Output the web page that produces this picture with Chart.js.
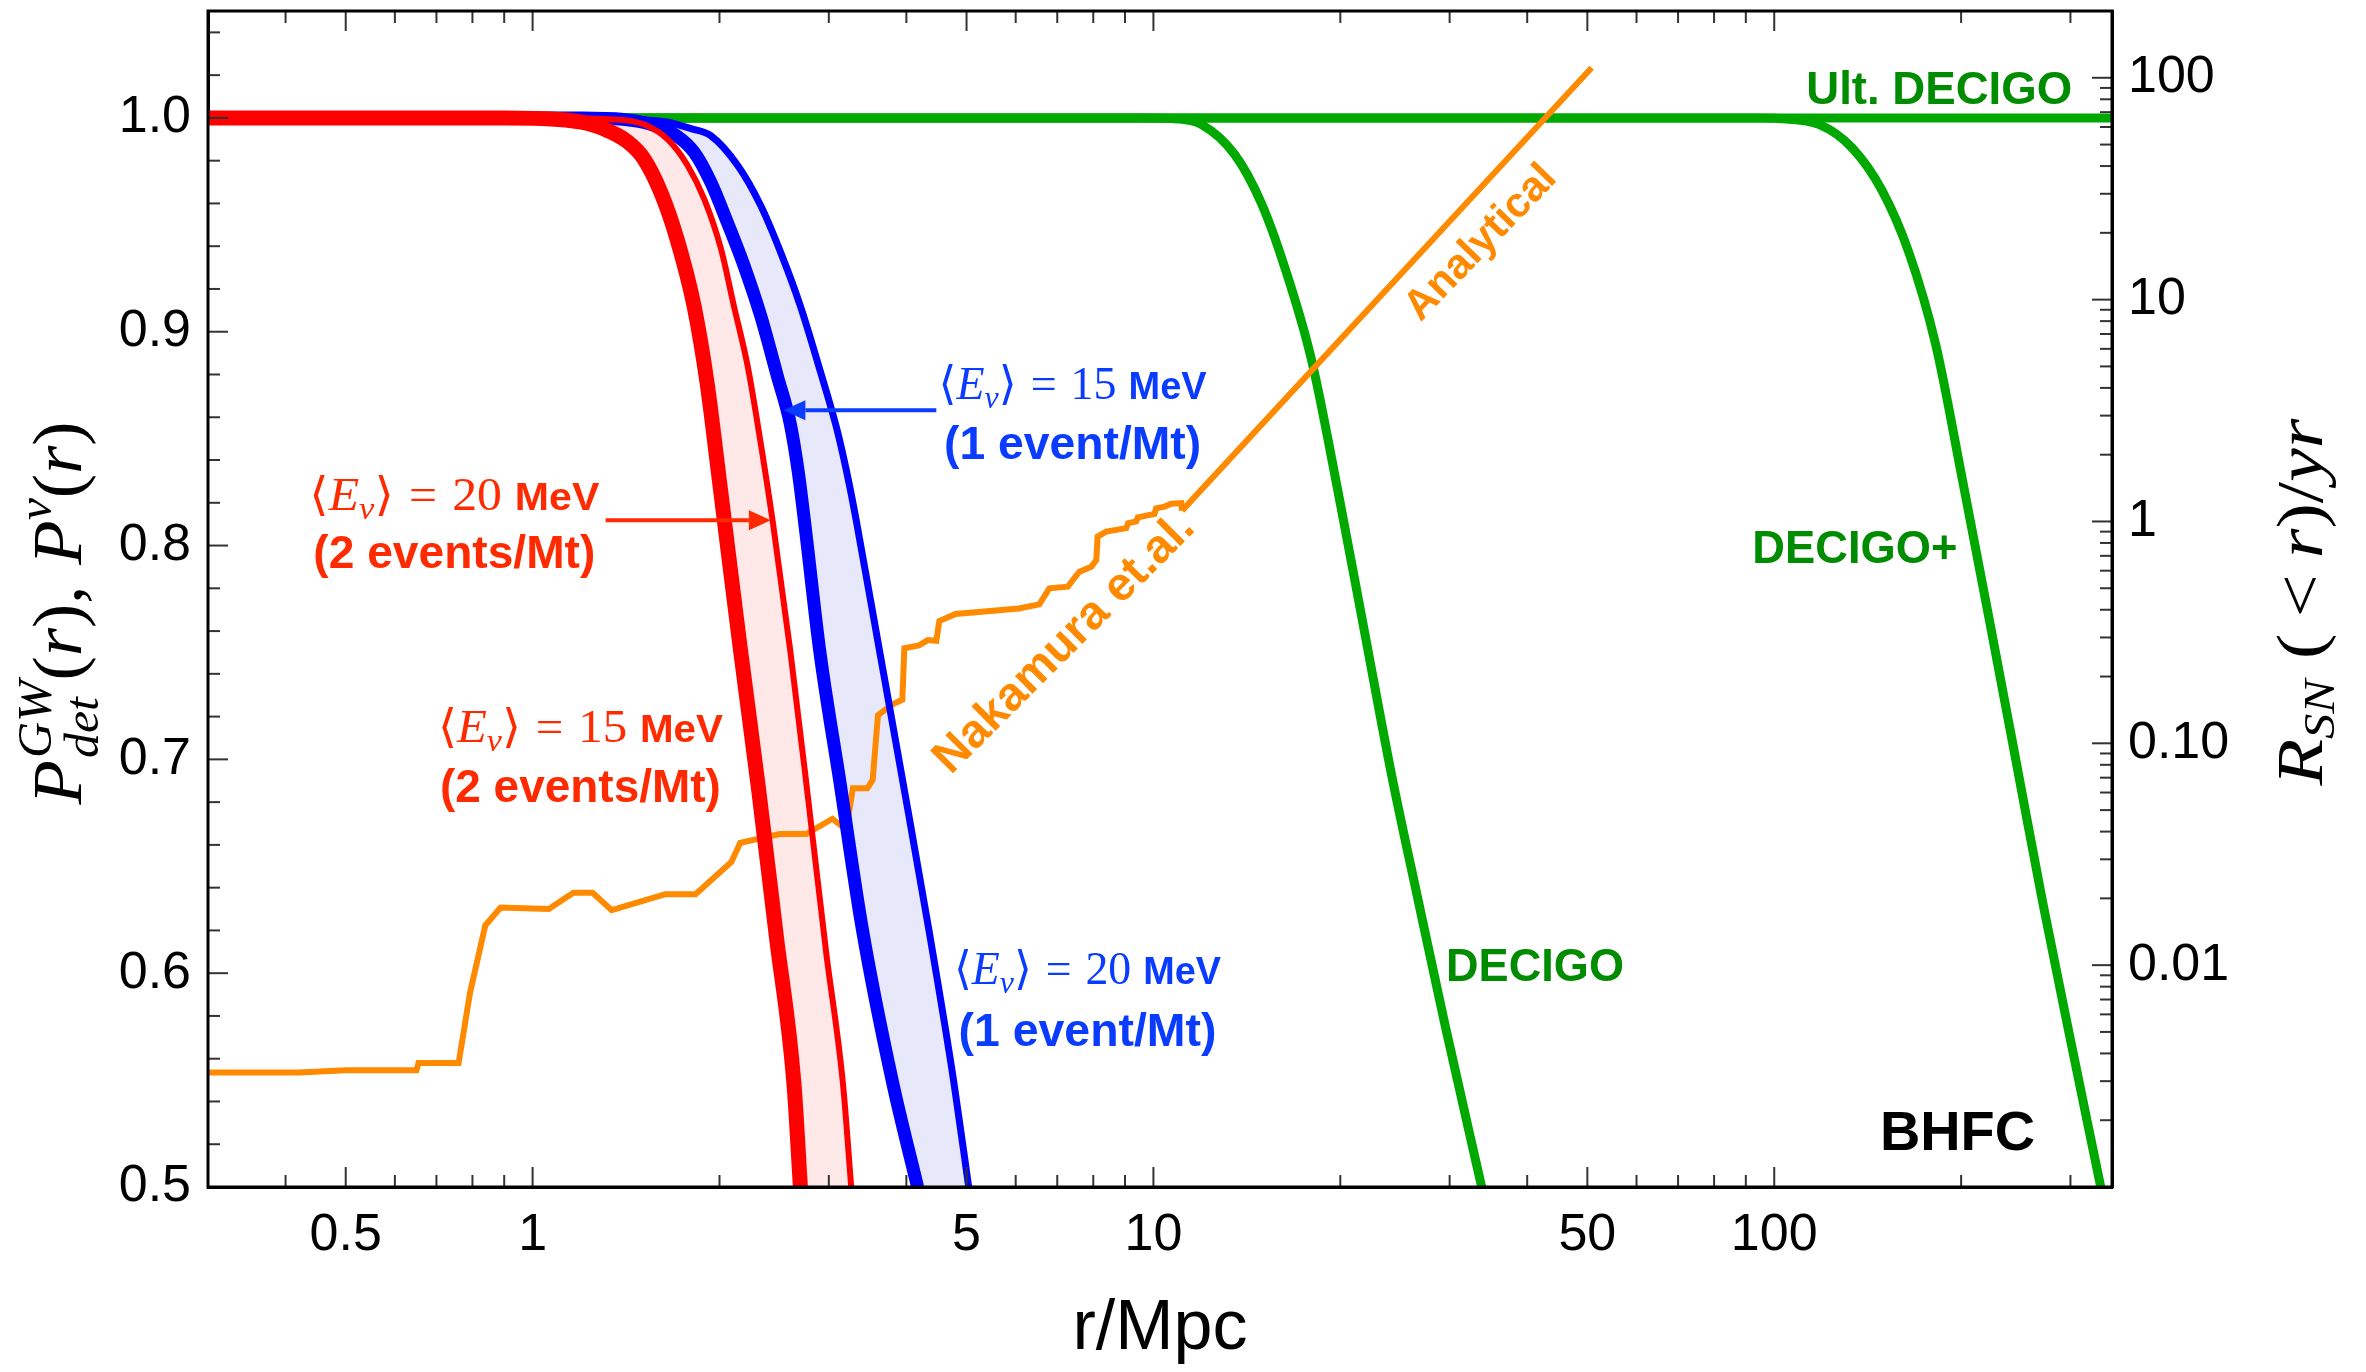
<!DOCTYPE html>
<html>
<head>
<meta charset="utf-8">
<script src="https://cdn.jsdelivr.net/npm/chart.js@4.4.1/dist/chart.umd.min.js"></script>
<style>
html,body{margin:0;padding:0;background:#ffffff;}
#wrap{width:2366px;height:1372px;position:relative;}
</style>
</head>
<body>
<div id="wrap"><canvas id="c"></canvas></div>
<script>
// ---------------- data ----------------
// x tick labels (r/Mpc) and tick values
const xMajorTicks = [0.5, 1, 5, 10, 50, 100];
const xTickLabels = ['0.5', '1', '5', '10', '50', '100'];
const xMinorTicks = [0.3, 0.4, 0.6, 0.7, 0.8, 0.9, 2, 3, 4, 6, 7, 8, 9, 20, 30, 40, 60, 70, 80, 90, 200, 300];
// left axis  P(r)
const yMajorTicks = [0.5, 0.6, 0.7, 0.8, 0.9, 1.0];
const yTickLabels = ['0.5', '0.6', '0.7', '0.8', '0.9', '1.0'];
const yMinorTicks = [0.52, 0.54, 0.56, 0.58, 0.62, 0.64, 0.66, 0.68, 0.72, 0.74, 0.76, 0.78,
                     0.82, 0.84, 0.86, 0.88, 0.92, 0.94, 0.96, 0.98, 1.02, 1.04];
// right axis  R_SN(<r)/yr
const y2MajorTicks = [0.01, 0.1, 1, 10, 100];
const y2TickLabels = ['0.01', '0.10', '1', '10', '100'];
const y2MinorTicks = [0.002, 0.003, 0.004, 0.005, 0.006, 0.007, 0.008, 0.009,
                      0.02, 0.03, 0.04, 0.05, 0.06, 0.07, 0.08, 0.09,
                      0.2, 0.3, 0.4, 0.5, 0.6, 0.7, 0.8, 0.9,
                      2, 3, 4, 5, 6, 7, 8, 9, 20, 30, 40, 50, 60, 70, 80, 90, 200];

// P^nu(r), <E>=15 MeV, 2 events/Mt (thick red)
const red15R = [0.3, 0.9, 1.1, 1.2, 1.30, 1.42, 1.51, 1.61, 1.71, 1.82, 1.91, 2.0, 2.08, 2.16, 2.31, 2.47, 2.635, 2.70];
const red15P = [1.0, 1.0, 0.9993, 0.998, 0.995, 0.989, 0.981, 0.965, 0.943, 0.912, 0.876, 0.830, 0.790, 0.752, 0.687, 0.617, 0.549, 0.5];
// P^nu(r), <E>=20 MeV, 2 events/Mt (thin red)
const red20R = [0.3, 1.1, 1.3, 1.4, 1.51, 1.65, 1.775, 1.89, 2.01, 2.11, 2.22, 2.33, 2.44, 2.60, 2.78, 2.97, 3.16, 3.26];
const red20P = [1.0, 1.0, 0.9995, 0.999, 0.997, 0.990, 0.978, 0.962, 0.939, 0.912, 0.884, 0.848, 0.81, 0.751, 0.681, 0.610, 0.549, 0.5];
// P^nu(r), <E>=15 MeV, 1 event/Mt (thick blue)
const blue15R = [0.3, 1.2, 1.4, 1.55, 1.7, 1.82, 1.936, 2.06, 2.19, 2.33, 2.48, 2.60, 2.68, 2.75, 2.90, 3.12, 3.40, 3.80, 4.17];
const blue15P = [1.0, 1.0, 0.9993, 0.997, 0.992, 0.984, 0.970, 0.951, 0.931, 0.9075, 0.879, 0.857, 0.834, 0.808, 0.751, 0.691, 0.620, 0.549, 0.5];
// P^nu(r), <E>=20 MeV, 1 event/Mt (thin blue)
const blue20R = [0.3, 1.2, 1.45, 1.65, 1.80, 1.936, 2.14, 2.33, 2.51, 2.70, 2.91, 3.10, 3.24, 3.32, 3.62, 3.94, 4.35, 4.77, 5.04];
const blue20P = [1.0, 1.0, 0.9993, 0.998, 0.995, 0.9917, 0.9777, 0.959, 0.937, 0.912, 0.881, 0.853, 0.828, 0.812, 0.751, 0.691, 0.620, 0.549, 0.5];
// P_det^GW(r)
const ultR = [0.3, 350];
const ultP = [1.0, 1.0];
const decigoR = [0.3, 9.5, 10.95, 11.94, 13.51, 14.93, 16.28, 17.97, 19.84, 21.90, 24.18, 26.70, 29.48, 33.79];
const decigoP = [1.0, 1.0, 0.9995, 0.997, 0.983, 0.960, 0.930, 0.887, 0.825, 0.759, 0.693, 0.634, 0.576, 0.5];
const decigoPlusR = [0.3, 95, 100.4, 118, 133.5, 149.2, 164.8, 182, 200.9, 221.8, 244.9, 270.3, 298.5, 335.7];
const decigoPlusP = [1.0, 1.0, 0.9998, 0.997, 0.986, 0.966, 0.937, 0.894, 0.831, 0.766, 0.700, 0.634, 0.572, 0.5];
// R_SN(<r)/yr  Nakamura et al. (right axis)
const nakR = [0.30, 0.42, 0.50, 0.62, 0.65, 0.655, 0.76, 0.793, 0.839, 0.888,
              1.062, 1.163, 1.249, 1.341, 1.636, 1.83, 2.09, 2.16, 2.50, 2.76,
              3.04, 3.20, 3.28, 3.46, 3.53, 3.60, 3.80, 3.94, 3.97, 4.19,
              4.33, 4.47, 4.52, 4.80, 6.07, 6.55, 6.80, 7.28, 7.42, 7.60,
              7.94, 8.09, 8.13, 8.39, 9.04, 9.10, 9.38, 9.44, 10.04, 10.10,
              10.42, 10.68, 11.09, 11.12];
const nakV = [0.00328, 0.00328, 0.00336, 0.00336, 0.00336, 0.00362, 0.00362, 0.00752, 0.0151, 0.0182,
              0.0179, 0.0212, 0.0212, 0.0177, 0.0209, 0.0209, 0.0292, 0.0356, 0.0390, 0.0390,
              0.0457, 0.0408, 0.0627, 0.0627, 0.0684, 0.134, 0.150, 0.157, 0.268, 0.276,
              0.292, 0.290, 0.356, 0.383, 0.405, 0.423, 0.500, 0.508, 0.546, 0.594,
              0.625, 0.670, 0.855, 0.900, 0.933, 0.982, 1.00, 1.044, 1.082, 1.146,
              1.167, 1.201, 1.209, 1.119];
// R_SN(<r)/yr analytical
const anaR = [11.12, 50.8];
const anaV = [1.119, 111];

// ---------------- styling ----------------
const SANS = "'Liberation Sans', Arial, Helvetica, sans-serif";
const SERIF = "'Liberation Serif', 'DejaVu Serif', 'Times New Roman', serif";
const RED = '#ff0000', RED_TXT = '#ff2a00';
const BLUE = '#0000ff', BLUE_TXT = '#0a3cff';
const GREEN = '#00a800', GREEN_TXT = '#008c00';
const ORANGE = '#ff8a00';

const pts = (xs, ys) => xs.map((v, i) => ({x: v, y: ys[i]}));
function lineDS(label, xs, ys, color, width, order, extra) {
  return Object.assign({
    label, data: pts(xs, ys), borderColor: color, borderWidth: width,
    pointRadius: 0, pointHoverRadius: 0, fill: false, order, yAxisID: 'y',
    cubicInterpolationMode: 'monotone', clip: 0, borderCapStyle: 'butt', borderJoinStyle: 'round'
  }, extra || {});
}

// rich-text helper: runs of differently styled text on one baseline
function drawRuns(ctx, runs, x, y, o) {
  let w = 0, kept = 0;
  runs.forEach(r => {
    ctx.font = r.font;
    const mw = ctx.measureText(r.t).width;
    if (r.keep) { r.adv = 0; kept = mw; }
    else { r.adv = Math.max(mw, kept) + (r.gap || 0); kept = 0; }
    w += r.adv;
  });
  const s = o.width ? o.width / w : 1;
  ctx.save();
  ctx.translate(x, y);
  if (o.rot) ctx.rotate(o.rot);
  ctx.scale(s, 1);
  let cx = o.align === 'left' ? 0 : (o.align === 'right' ? -w : -w / 2);
  ctx.textAlign = 'left';
  ctx.textBaseline = o.baseline || 'alphabetic';
  runs.forEach(r => {
    ctx.font = r.font;
    ctx.fillStyle = r.color || o.color;
    ctx.fillText(r.t, cx, r.dy || 0);
    cx += r.adv;
  });
  ctx.restore();
}

const nuLabels = [
  {energy: '20', events: '(2 events/Mt)', r: 0.748, p: 0.8165, w1: 290, w2: 282, gap: 58, color: RED_TXT},
  {energy: '15', events: '(2 events/Mt)', r: 1.194, p: 0.7083, w1: 285, w2: 281, gap: 60, color: RED_TXT},
  {energy: '15', events: '(1 event/Mt)', r: 7.41, p: 0.8685, w1: 268, w2: 257, gap: 60, color: BLUE_TXT},
  {energy: '20', events: '(1 event/Mt)', r: 7.83, p: 0.595, w1: 267, w2: 258, gap: 62, color: BLUE_TXT}
];
const arrows = [
  {from: 1.311, to: 2.42, p: 0.8118, color: RED_TXT},
  {from: 4.47, to: 2.535, p: 0.8633, color: BLUE_TXT}
];
const plainLabels = [
  {t: 'Ult. DECIGO', r: 302, p: 1.0066, align: 'right', w: 266, size: 46, color: GREEN_TXT},
  {t: 'DECIGO+', r: 92.2, p: 0.7919, align: 'left', w: 205, size: 46, color: GREEN_TXT},
  {t: 'DECIGO', r: 29.6, p: 0.5964, align: 'left', w: 178, size: 46, color: GREEN_TXT},
  {t: 'BHFC', r: 148, p: 0.5173, align: 'left', w: 155, size: 56, color: '#000000'}
];
const rotLabels = [
  {t: 'Nakamura et.al.', r: 7.19, p: 0.7542, rot: -45, size: 47, color: ORANGE},
  {t: 'Analytical', r: 33.7, p: 0.9415, rot: -46, size: 42, color: ORANGE}
];

const annotations = {
  id: 'annotations',
  afterDatasetsDraw(chart) {
    const {ctx, scales: {x, y}} = chart;
    nuLabels.forEach(L => {
      const px = x.getPixelForValue(L.r), py = y.getPixelForValue(L.p);
      drawRuns(ctx, [
        {t: '\u27E8', font: `46px ${SERIF}`},
        {t: 'E', font: `italic 46px ${SERIF}`},
        {t: '\u03BD', font: `italic 32px ${SERIF}`, dy: 9},
        {t: '\u27E9', font: `46px ${SERIF}`, gap: 14},
        {t: '=', font: `46px ${SERIF}`, gap: 14},
        {t: L.energy, font: `46px ${SERIF}`, gap: 12},
        {t: 'MeV', font: `bold 38px ${SANS}`}
      ], px, py, {align: 'center', width: L.w1, color: L.color});
      drawRuns(ctx, [{t: L.events, font: `bold 46px ${SANS}`}], px, py + L.gap,
               {align: 'center', width: L.w2, color: L.color});
    });
    arrows.forEach(A => {
      const x1 = x.getPixelForValue(A.from), x2 = x.getPixelForValue(A.to), py = y.getPixelForValue(A.p);
      const dir = Math.sign(x2 - x1), head = 22, half = 10;
      ctx.save();
      ctx.strokeStyle = A.color; ctx.fillStyle = A.color; ctx.lineWidth = 4;
      ctx.beginPath(); ctx.moveTo(x1, py); ctx.lineTo(x2 - dir * head, py); ctx.stroke();
      ctx.beginPath(); ctx.moveTo(x2, py); ctx.lineTo(x2 - dir * head, py - half);
      ctx.lineTo(x2 - dir * head, py + half); ctx.closePath(); ctx.fill();
      ctx.restore();
    });
    plainLabels.forEach(L => {
      drawRuns(ctx, [{t: L.t, font: `bold ${L.size}px ${SANS}`}],
               x.getPixelForValue(L.r), y.getPixelForValue(L.p), {align: L.align, width: L.w, color: L.color});
    });
    rotLabels.forEach(L => {
      drawRuns(ctx, [{t: L.t, font: `bold ${L.size}px ${SANS}`}],
               x.getPixelForValue(L.r), y.getPixelForValue(L.p),
               {align: 'center', rot: L.rot * Math.PI / 180, baseline: 'middle', color: L.color});
    });
  }
};

const frameAndTicks = {
  id: 'frameAndTicks',
  afterDraw(chart) {
    const {ctx, chartArea: a, scales: {x, y, y2}} = chart;
    const MAJ = 20, MIN = 12;
    ctx.save();
    ctx.strokeStyle = '#333333'; ctx.lineWidth = 2;
    const seg = (x1, y1, x2, y2_) => { ctx.beginPath(); ctx.moveTo(x1, y1); ctx.lineTo(x2, y2_); ctx.stroke(); };
    const xt = (vals, len) => vals.forEach(v => { const p = x.getPixelForValue(v); seg(p, a.bottom, p, a.bottom - len); seg(p, a.top, p, a.top + len); });
    xt(xMajorTicks, MAJ); xt(xMinorTicks, MIN);
    const yt = (vals, len) => vals.forEach(v => { const p = y.getPixelForValue(v); seg(a.left, p, a.left + len, p); });
    yt(yMajorTicks, MAJ); yt(yMinorTicks, MIN);
    const y2t = (vals, len) => vals.forEach(v => { const p = y2.getPixelForValue(v); seg(a.right, p, a.right - len, p); });
    y2t(y2MajorTicks, MAJ); y2t(y2MinorTicks, MIN);
    ctx.strokeStyle = '#000000'; ctx.lineWidth = 3;
    ctx.strokeRect(a.left, a.top, a.right - a.left, a.bottom - a.top);
    ctx.restore();

    // y-axis titles with sub/superscripts
    drawRuns(ctx, [
      {t: 'P', font: `italic 70px ${SERIF}`, gap: 2},
      {t: 'GW', font: `italic 48px ${SERIF}`, dy: -30, keep: true},
      {t: 'det', font: `italic 48px ${SERIF}`, dy: 17},
      {t: '(', font: `70px ${SERIF}`},
      {t: 'r', font: `italic 70px ${SERIF}`},
      {t: ')', font: `70px ${SERIF}`},
      {t: ',', font: `70px ${SERIF}`, gap: 20},
      {t: 'P', font: `italic 70px ${SERIF}`},
      {t: '\u03BD', font: `italic 48px ${SERIF}`, dy: -30},
      {t: '(', font: `70px ${SERIF}`},
      {t: 'r', font: `italic 70px ${SERIF}`},
      {t: ')', font: `70px ${SERIF}`}
    ], 81, 613, {align: 'center', rot: -Math.PI / 2, width: 383, color: '#000'});
    drawRuns(ctx, [
      {t: 'R', font: `italic 66px ${SERIF}`},
      {t: 'SN', font: `italic 44px ${SERIF}`, dy: 12, gap: 18},
      {t: '(', font: `66px ${SERIF}`, gap: 14},
      {t: '<', font: `66px ${SERIF}`, gap: 14},
      {t: 'r', font: `italic 66px ${SERIF}`},
      {t: ')', font: `66px ${SERIF}`},
      {t: '/', font: `66px ${SERIF}`},
      {t: 'yr', font: `italic 66px ${SERIF}`}
    ], 2322, 602, {align: 'center', rot: -Math.PI / 2, width: 367, color: '#000'});
  }
};

const tickFont = {size: 52, family: SANS};

new Chart(document.getElementById('c'), {
  type: 'line',
  data: {
    datasets: [
      lineDS('<Eν>=15 MeV (2 events/Mt)', red15R, red15P, RED, 15, 1, {fill: {value: 0.5}, backgroundColor: '#ffffff'}),
      lineDS('<Eν>=20 MeV (2 events/Mt)', red20R, red20P, RED, 6, 2, {fill: {value: 0.5}, backgroundColor: '#ffe8e8'}),
      lineDS('<Eν>=15 MeV (1 event/Mt)', blue15R, blue15P, BLUE, 13, 3, {fill: {value: 0.5}, backgroundColor: '#ffffff'}),
      lineDS('<Eν>=20 MeV (1 event/Mt)', blue20R, blue20P, BLUE, 7, 4, {fill: {value: 0.5}, backgroundColor: '#e8e8fb'}),
      lineDS('Nakamura et.al.', nakR, nakV, ORANGE, 6, 5, {yAxisID: 'y2', cubicInterpolationMode: 'default', tension: 0, borderJoinStyle: 'miter'}),
      lineDS('Analytical', anaR, anaV, ORANGE, 6, 5, {yAxisID: 'y2', cubicInterpolationMode: 'default', tension: 0}),
      lineDS('Ult. DECIGO', ultR, ultP, GREEN, 9, 6),
      lineDS('DECIGO', decigoR, decigoP, GREEN, 9, 7),
      lineDS('DECIGO+', decigoPlusR, decigoPlusP, GREEN, 9, 7)
    ]
  },
  options: {
    responsive: true,
    maintainAspectRatio: false,
    devicePixelRatio: 1,
    animation: false,
    events: [],
    layout: {padding: {top: 11, left: 0, right: 0, bottom: 0}, autoPadding: false},
    plugins: {
      legend: {display: false},
      tooltip: {enabled: false},
      filler: {drawTime: 'beforeDatasetsDraw', propagate: false}
    },
    scales: {
      x: {
        type: 'logarithmic', position: 'bottom', min: 0.3, max: 350,
        grid: {display: false, drawTicks: false},
        border: {display: true, color: '#000', width: 3},
        afterBuildTicks: s => { s.ticks = xMajorTicks.map(v => ({value: v})); },
        afterFit: s => { s.height = 185; s.paddingLeft = 0; s.paddingRight = 0; },
        ticks: {autoSkip: false, maxRotation: 0, minRotation: 0, padding: 17, color: '#000', font: tickFont,
                callback: (v, i) => xTickLabels[i]},
        title: {display: true, text: 'r/Mpc', color: '#000', font: {size: 70, family: SANS}, padding: {top: 0, bottom: 0}}
      },
      y: {
        type: 'linear', position: 'left', min: 0.5, max: 1.05,
        grid: {display: false, drawTicks: false},
        border: {display: true, color: '#000', width: 3},
        afterBuildTicks: s => { s.ticks = yMajorTicks.map(v => ({value: v})); },
        afterFit: s => { s.width = 208; s.paddingTop = 0; s.paddingBottom = 0; },
        ticks: {autoSkip: false, padding: 17, color: '#000', font: tickFont, callback: (v, i) => yTickLabels[i]}
      },
      y2: {
        type: 'logarithmic', position: 'right', min: 0.001, max: 200,
        grid: {display: false, drawTicks: false},
        border: {display: true, color: '#000', width: 3},
        afterBuildTicks: s => { s.ticks = y2MajorTicks.map(v => ({value: v})); },
        afterFit: s => { s.width = 254; s.paddingTop = 0; s.paddingBottom = 0; },
        ticks: {autoSkip: false, padding: 16, color: '#000', font: tickFont, callback: (v, i) => y2TickLabels[i]}
      }
    }
  },
  plugins: [annotations, frameAndTicks]
});
</script>
</body>
</html>
